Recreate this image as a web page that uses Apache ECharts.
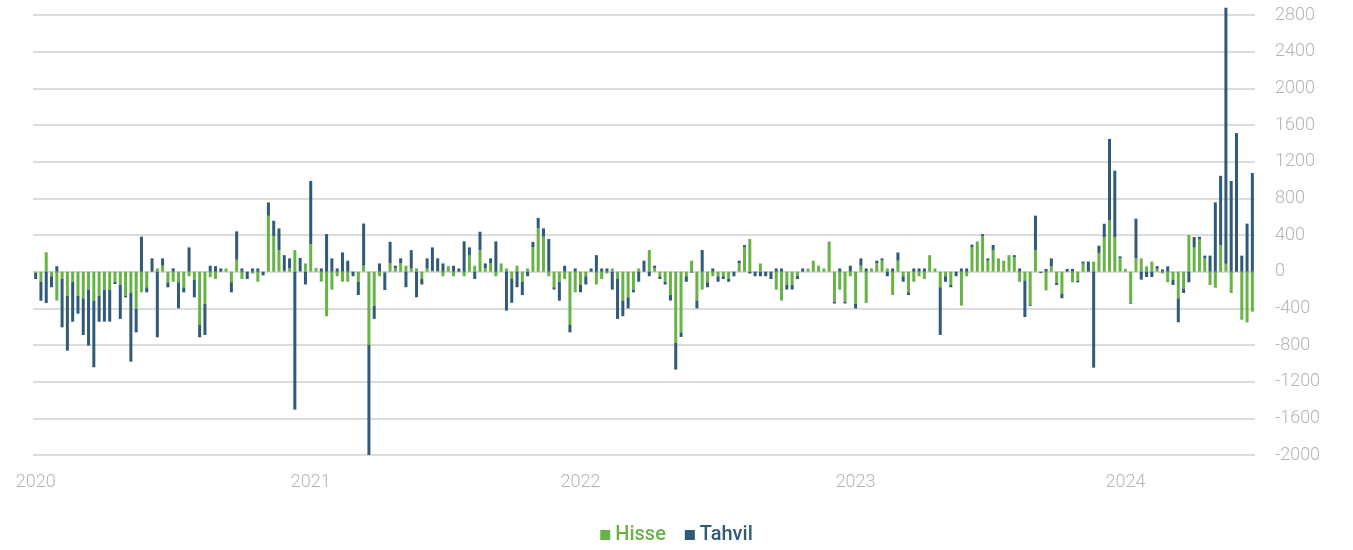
<!DOCTYPE html>
<html>
<head>
<meta charset="utf-8">
<script src="https://cdn.jsdelivr.net/npm/echarts@6/dist/echarts.min.js"></script>
<style>
  html, body { margin: 0; padding: 0; background: #ffffff; }
  #chart { width: 1353px; height: 550px; }
</style>
</head>
<body>
<div id="chart"></div>
<script>
// Weekly net flows, stacked: equity (Hisse) and bond (Tahvil) funds
const yearLabels = ['2020', '2021', '2022', '2023', '2024'];
const yearStartIndex = [0, 52, 103, 155, 206];

const hisse = [
  -15, -110, 211, -50, -316, -80, -262, -110, -262, -291,
  -196, -316, -262, -196, -196, -110, -145, -262, -233, -407,
  -225, -171, 0, 36, 65, -116, -110, -116, -171, -50,
  -87, -582, -349, -60, -80, 0, 35, -115, 130, -80,
  0, -20, -110, 0, 610, 390, 236, 10, 35, 236,
  5, 90, 300, 35, -110, -487, -196, -50, -110, -110,
  0, -110, 65, -800, -370, -50, -10, 90, 35, 90,
  65, 35, 35, -80, 35, 10, 5, -50, 60, -50,
  0, -50, 180, 65, 236, 35, 90, -50, 90, 35,
  -80, 65, -110, 35, 265, 473, 382, -50, -170, -110,
  -80, -582, -225, -145, -50, 0, -140, -80, -20, 35,
  -80, -316, -280, -196, 35, 0, 236, 35, -50, -110,
  -255, -778, -662, -50, 120, -316, -196, -115, -50, -50,
  -50, -80, 0, 90, 265, 356, 0, 90, 0, 0,
  -196, -316, -145, -145, -45, 0, 35, 120, 65, 35,
  330, -327, -196, -327, -50, -352, 65, -342, 35, 90,
  120, 35, -255, 120, -50, -225, -110, -50, -80, 180,
  35, -170, -50, -145, 0, -370, -50, 265, 330, 390,
  120, 236, 145, 120, 180, 155, -110, -95, -365, 233,
  0, -204, 58, -124, -240, 0, -116, -95, 87, 0,
  110, 204, 378, 560, 378, 145, 30, -340, 145, 145,
  58, 110, 30, -20, -116, -87, -290, -182, 400, 262,
  350, 145, -145, -175, 290, 87, -233, 0, -524, -553,
  -436
];

const tahvil = [
  -65, -207, -342, -120, 60, -527, -600, -436, -196, -400,
  -611, -727, -284, -349, -349, -25, -371, -18, -749, -255,
  382, -55, 145, -716, 80, -55, 36, -284, -55, 265,
  -193, -134, -342, 65, 60, 35, 0, -110, 310, 35,
  -80, 35, 35, -40, 145, 165, 236, 170, 110, -1505,
  145, -140, 690, 5, 35, 410, 145, 35, 210, 120,
  -50, -145, 460, -1200, -145, 90, -190, 236, 30, 55,
  -170, 200, -280, -60, 110, 255, 140, 90, 0, 65,
  35, 330, 85, -80, 200, 55, 55, 330, 0, -425,
  -260, -170, -145, -50, 60, 113, 90, 356, -25, -207,
  65, -80, 35, -80, -90, 35, 180, 35, 35, -196,
  -436, -170, -120, -30, -110, 120, -50, 30, -30, -30,
  -60, -290, -50, -60, -10, -85, 236, -55, 35, -60,
  -30, -30, -50, 30, 25, -20, -50, -50, -50, -80,
  35, 35, -50, -50, -35, 35, 0, 0, 0, 0,
  0, -20, 35, -20, 65, -50, 80, 35, 0, 30,
  25, -50, 35, 90, -60, -30, 35, 35, 35, 0,
  0, -520, -60, -25, -50, 35, 35, 30, 0, 20,
  25, 55, 0, 0, 0, 25, 35, -400, -10, 378,
  -15, 30, 87, -22, -50, 30, 30, -22, 22, 110,
  -1047, 80, 145, 887, 724, 22, 0, -10, 433, -87,
  -58, -58, 30, 25, 58, -58, -262, -50, -116, 116,
  30, 30, 175, 756, 756, 2793, 989, 1512, 175, 524,
  1076
];

const yMin = -2000;
const yMax = 2800;
const yStep = 400;

const green = '#67b346';
const navy = '#305a79';

// one category per week; the first week of each year carries the year label
const weeks = hisse.map((_, i) => {
  let y = 0;
  for (let k = 0; k < yearStartIndex.length; k++) {
    if (i >= yearStartIndex[k]) y = k;
  }
  return yearLabels[y] + '-' + (i - yearStartIndex[y] + 1);
});

const chart = echarts.init(document.getElementById('chart'), null, { renderer: 'canvas' });

chart.setOption({
  animation: false,
  backgroundColor: '#ffffff',
  grid: { left: 33, right: 98, top: 15, bottom: 95, containLabel: false },
  legend: {
    bottom: 0,
    left: 'center',
    icon: 'rect',
    itemWidth: 10,
    itemHeight: 10,
    itemGap: 19,
    textStyle: { fontFamily: 'Roboto', fontSize: 20, fontWeight: 500 },
    data: [
      { name: 'Hisse', textStyle: { color: green } },
      { name: 'Tahvil', textStyle: { color: navy } }
    ]
  },
  xAxis: {
    type: 'category',
    data: weeks,
    boundaryGap: true,
    axisLine: { show: false },
    axisTick: { show: false },
    splitLine: { show: false },
    axisLabel: {
      interval: (idx) => yearStartIndex.indexOf(idx) !== -1,
      formatter: (val, idx) => {
        const k = yearStartIndex.indexOf(idx);
        return k === -1 ? '' : yearLabels[k];
      },
      color: '#b5b5b5',
      fontFamily: 'Roboto',
      fontWeight: 300,
      fontSize: 18,
      margin: 18
    }
  },
  yAxis: {
    type: 'value',
    position: 'right',
    min: yMin,
    max: yMax,
    interval: yStep,
    axisLine: { show: false },
    axisTick: { show: false },
    splitLine: { lineStyle: { color: '#dcdcdc', width: 2 } },
    axisLabel: {
      formatter: (v) => String(v),
      color: '#b5b5b5',
      fontFamily: 'Roboto',
      fontWeight: 300,
      fontSize: 18,
      margin: 20
    }
  },
  series: [
    {
      name: 'Hisse',
      type: 'bar',
      stack: 'flow',
      data: hisse,
      barWidth: 3,
      clip: false,
      itemStyle: { color: green }
    },
    {
      name: 'Tahvil',
      type: 'bar',
      stack: 'flow',
      data: tahvil,
      barWidth: 3,
      clip: false,
      itemStyle: { color: navy }
    }
  ]
});
</script>
</body>
</html>
